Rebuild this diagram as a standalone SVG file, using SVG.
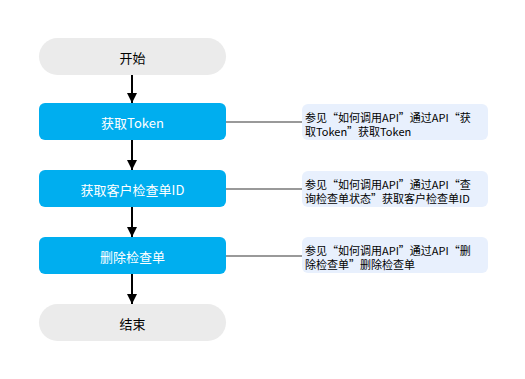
<svg xmlns="http://www.w3.org/2000/svg" width="525" height="379" viewBox="0 0 525 379">
<defs>
<style>
.term{fill:#ebebeb;}
.proc{fill:#00aeef;}
.note{fill:#e8f0fd;}
.tt{font-family:"Noto Sans CJK SC","Microsoft YaHei",sans-serif;font-size:13px;text-anchor:middle;}
.tw{fill:#ffffff;}
.tb{fill:#000000;}
.nt{font-family:"Noto Sans CJK SC","Microsoft YaHei",sans-serif;font-size:11px;fill:#000000;}
.arr{stroke:#000000;stroke-width:2;fill:none;marker-end:url(#ah);}
.ln{stroke:#999999;stroke-width:2;fill:none;}
</style>
<marker id="ah" viewBox="0 0 10 10" refX="10" refY="5" markerWidth="5" markerHeight="5" orient="auto" markerUnits="strokeWidth">
<path d="M0,0 L10,5 L0,10 z" fill="#000000"/>
</marker>
</defs>
<rect width="525" height="379" fill="#ffffff"/>
<g id="connectors">
<line class="arr" x1="132" y1="75" x2="132" y2="103"/>
<line class="arr" x1="132" y1="140" x2="132" y2="170"/>
<line class="arr" x1="132" y1="207" x2="132" y2="237"/>
<line class="arr" x1="132" y1="274" x2="132" y2="304"/>
<line class="ln" x1="226" y1="122" x2="302" y2="122"/>
<line class="ln" x1="226" y1="189" x2="302" y2="189"/>
<line class="ln" x1="226" y1="256" x2="302" y2="256"/>
</g>
<g id="start">
<rect class="term" x="39" y="38" width="187" height="37" rx="18.5"/>
<text class="tt tb" x="132.5" y="62.5">开始</text>
</g>
<g id="token">
<rect class="proc" x="39" y="103" width="187" height="37" rx="6"/>
<text class="tt tw" x="132.5" y="127.5">获取Token</text>
</g>
<g id="getid">
<rect class="proc" x="39" y="170" width="187" height="37" rx="6"/>
<text class="tt tw" x="132.5" y="194.5">获取客户检查单ID</text>
</g>
<g id="delete">
<rect class="proc" x="39" y="237" width="187" height="37" rx="6"/>
<text class="tt tw" x="132.5" y="261.5">删除检查单</text>
</g>
<g id="end">
<rect class="term" x="39" y="304" width="187" height="37" rx="18.5"/>
<text class="tt tb" x="132.5" y="328.5">结束</text>
</g>
<g id="note1">
<rect class="note" x="302" y="104" width="186" height="36" rx="6"/>
<text class="nt" x="305" y="121.5">参见“如何调用API”通过API“获</text>
<text class="nt" x="305" y="136">取Token”获取Token</text>
</g>
<g id="note2">
<rect class="note" x="302" y="171" width="186" height="36" rx="6"/>
<text class="nt" x="305" y="188.5">参见“如何调用API”通过API“查</text>
<text class="nt" x="305" y="203">询检查单状态”获取客户检查单ID</text>
</g>
<g id="note3">
<rect class="note" x="302" y="237" width="186" height="36" rx="6"/>
<text class="nt" x="305" y="254.5">参见“如何调用API”通过API“删</text>
<text class="nt" x="305" y="269">除检查单”删除检查单</text>
</g>
</svg>
